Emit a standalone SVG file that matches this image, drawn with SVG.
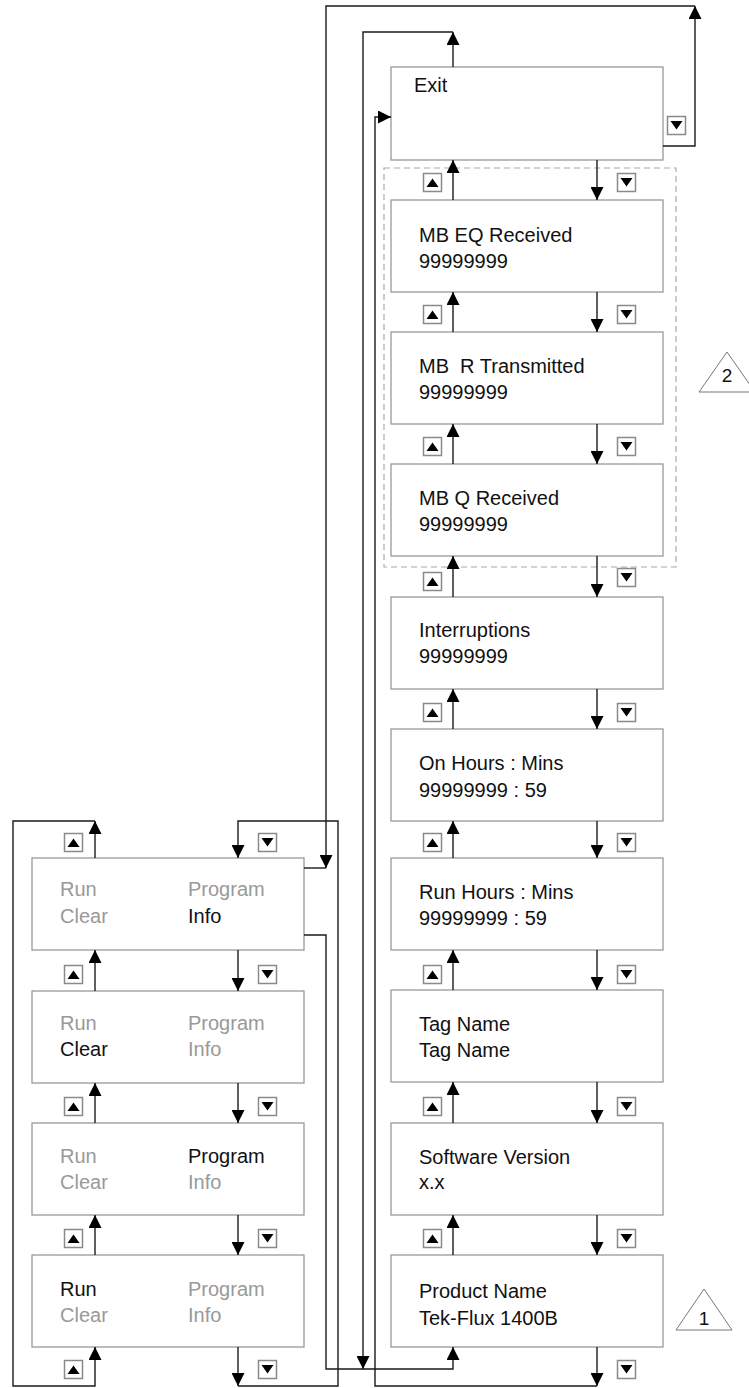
<svg xmlns="http://www.w3.org/2000/svg" xmlns:xlink="http://www.w3.org/1999/xlink" width="749" height="1388" viewBox="0 0 749 1388">
<style>
.box{fill:#fff;stroke:#999;stroke-width:1.3}
.t{font-family:"Liberation Sans",Arial,sans-serif;font-size:20px;fill:#111}
.g{fill:#999}
.c{fill:none;stroke:#1a1a1a;stroke-width:1.4}
.c.m{marker-end:url(#ah)}
.btnr{fill:#fff;stroke:#8a8a8a;stroke-width:1.5}
.dash{fill:none;stroke:#aaa;stroke-width:1.2;stroke-dasharray:6 4}
.tri{fill:#fff;stroke:#777;stroke-width:1}
.tl{font-family:"Liberation Sans",Arial,sans-serif;font-size:19px;fill:#111;text-anchor:middle}
</style>
<defs>
<marker id="ah" markerUnits="userSpaceOnUse" markerWidth="13" markerHeight="13" refX="13" refY="6.5" orient="auto" viewBox="0 0 13 13">
<path d="M0,0 L13,6.5 L0,13 z" fill="#000"/>
</marker>
<g id="bu"><rect class="btnr" x="0.5" y="0.5" width="18" height="18"/><path d="M3.5,14 L15.5,14 L9.5,5.5 z" fill="#000"/></g>
<g id="bd"><rect class="btnr" x="0.5" y="0.5" width="18" height="18"/><path d="M3.5,5 L15.5,5 L9.5,13.5 z" fill="#000"/></g>
</defs>

<rect class="dash" x="384" y="168" width="292" height="399"/>

<g id="exit"><rect class="box" x="391" y="67" width="272" height="93"/><text class="t" x="414" y="92">Exit</text></g>
<g id="mb-eq-received"><rect class="box" x="391" y="200" width="272" height="92"/><text class="t" x="419" y="242">MB EQ Received</text><text class="t" x="419" y="268">99999999</text></g>
<g id="mb-r-transmitted"><rect class="box" x="391" y="332" width="272" height="92"/><text class="t" x="419" y="373" xml:space="preserve">MB  R Transmitted</text><text class="t" x="419" y="399">99999999</text></g>
<g id="mb-q-received"><rect class="box" x="391" y="464" width="272" height="92"/><text class="t" x="419" y="505">MB Q Received</text><text class="t" x="419" y="531">99999999</text></g>
<g id="interruptions"><rect class="box" x="391" y="597" width="272" height="92"/><text class="t" x="419" y="637">Interruptions</text><text class="t" x="419" y="663">99999999</text></g>
<g id="on-hours"><rect class="box" x="391" y="729" width="272" height="92"/><text class="t" x="419" y="770">On Hours : Mins</text><text class="t" x="419" y="797">99999999 : 59</text></g>
<g id="run-hours"><rect class="box" x="391" y="858" width="272" height="92"/><text class="t" x="419" y="899">Run Hours : Mins</text><text class="t" x="419" y="925">99999999 : 59</text></g>
<g id="tag-name"><rect class="box" x="391" y="990" width="272" height="92"/><text class="t" x="419" y="1031">Tag Name</text><text class="t" x="419" y="1057">Tag Name</text></g>
<g id="software-version"><rect class="box" x="391" y="1123" width="272" height="92"/><text class="t" x="419" y="1164">Software Version</text><text class="t" x="419" y="1189">x.x</text></g>
<g id="product-name"><rect class="box" x="391" y="1255" width="272" height="92"/><text class="t" x="419" y="1298">Product Name</text><text class="t" x="419" y="1325">Tek-Flux 1400B</text></g>

<g id="menu-info"><rect class="box" x="32" y="858" width="272" height="92"/><text class="t g" x="60" y="896">Run</text><text class="t g" x="60" y="923">Clear</text><text class="t g" x="188" y="896">Program</text><text class="t" x="188" y="923">Info</text></g>
<g id="menu-clear"><rect class="box" x="32" y="991" width="272" height="92"/><text class="t g" x="60" y="1030">Run</text><text class="t" x="60" y="1056">Clear</text><text class="t g" x="188" y="1030">Program</text><text class="t g" x="188" y="1056">Info</text></g>
<g id="menu-program"><rect class="box" x="32" y="1123" width="272" height="92"/><text class="t g" x="60" y="1163">Run</text><text class="t g" x="60" y="1189">Clear</text><text class="t" x="188" y="1163">Program</text><text class="t g" x="188" y="1189">Info</text></g>
<g id="menu-run"><rect class="box" x="32" y="1255" width="272" height="92"/><text class="t" x="60" y="1296">Run</text><text class="t g" x="60" y="1322">Clear</text><text class="t g" x="188" y="1296">Program</text><text class="t g" x="188" y="1322">Info</text></g>

<g id="buttons">
<use xlink:href="#bd" x="667" y="116"/>
<use xlink:href="#bu" x="423" y="173"/><use xlink:href="#bd" x="617" y="173"/>
<use xlink:href="#bu" x="423" y="305"/><use xlink:href="#bd" x="617" y="305"/>
<use xlink:href="#bu" x="423" y="437"/><use xlink:href="#bd" x="617" y="437"/>
<use xlink:href="#bu" x="423" y="572"/><use xlink:href="#bd" x="617" y="568"/>
<use xlink:href="#bu" x="423" y="703"/><use xlink:href="#bd" x="617" y="703"/>
<use xlink:href="#bu" x="423" y="833"/><use xlink:href="#bd" x="617" y="833"/>
<use xlink:href="#bu" x="423" y="965"/><use xlink:href="#bd" x="617" y="965"/>
<use xlink:href="#bu" x="423" y="1097"/><use xlink:href="#bd" x="617" y="1097"/>
<use xlink:href="#bu" x="423" y="1229"/><use xlink:href="#bd" x="617" y="1229"/>
<use xlink:href="#bd" x="617" y="1360"/>
<use xlink:href="#bu" x="64" y="833"/><use xlink:href="#bd" x="258" y="833"/>
<use xlink:href="#bu" x="64" y="965"/><use xlink:href="#bd" x="258" y="965"/>
<use xlink:href="#bu" x="64" y="1097"/><use xlink:href="#bd" x="258" y="1097"/>
<use xlink:href="#bu" x="64" y="1229"/><use xlink:href="#bd" x="258" y="1229"/>
<use xlink:href="#bu" x="64" y="1360"/><use xlink:href="#bd" x="258" y="1360"/>
</g>

<g id="connectors">
<path class="c m" d="M597,160 V200"/>
<path class="c m" d="M597,292 V332"/>
<path class="c m" d="M597,424 V464"/>
<path class="c m" d="M597,556 V597"/>
<path class="c m" d="M597,689 V729"/>
<path class="c m" d="M597,821 V858"/>
<path class="c m" d="M597,950 V990"/>
<path class="c m" d="M597,1082 V1123"/>
<path class="c m" d="M597,1215 V1255"/>
<path class="c m" d="M453,200 V160"/>
<path class="c m" d="M453,332 V292"/>
<path class="c m" d="M453,464 V424"/>
<path class="c m" d="M453,597 V556"/>
<path class="c m" d="M453,729 V689"/>
<path class="c m" d="M453,858 V821"/>
<path class="c m" d="M453,990 V950"/>
<path class="c m" d="M453,1123 V1082"/>
<path class="c m" d="M453,1255 V1215"/>
<path class="c m" d="M238,950 V991"/>
<path class="c m" d="M238,1083 V1123"/>
<path class="c m" d="M238,1215 V1255"/>
<path class="c m" d="M95,991 V950"/>
<path class="c m" d="M95,1123 V1083"/>
<path class="c m" d="M95,1255 V1215"/>
<path class="c m" d="M95,858 V821"/>
<path class="c m" d="M95,821 H13 V1386 H95 V1347"/>
<path class="c m" d="M238,1347 V1386"/>
<path class="c m" d="M238,1386 H338 V821 H238 V858"/>
<path class="c m" d="M663,146 H695 V6"/>
<path class="c m" d="M695,6 H326 V868"/>
<path class="c" d="M304,868 H326"/>
<path class="c m" d="M304,935 H326 V1369 H453 V1347"/>
<path class="c m" d="M453,67 V32"/>
<path class="c m" d="M453,32 H363 V1369"/>
<path class="c m" d="M597,1347 V1386"/>
<path class="c m" d="M597,1386 H375 V117 H391"/>
</g>

<g id="note-2"><polygon class="tri" points="727,352 699,392 755,392"/><text class="tl" x="727" y="382">2</text></g>
<g id="note-1"><polygon class="tri" points="704,1289 676,1330 732,1330"/><text class="tl" x="704" y="1325">1</text></g>
</svg>
